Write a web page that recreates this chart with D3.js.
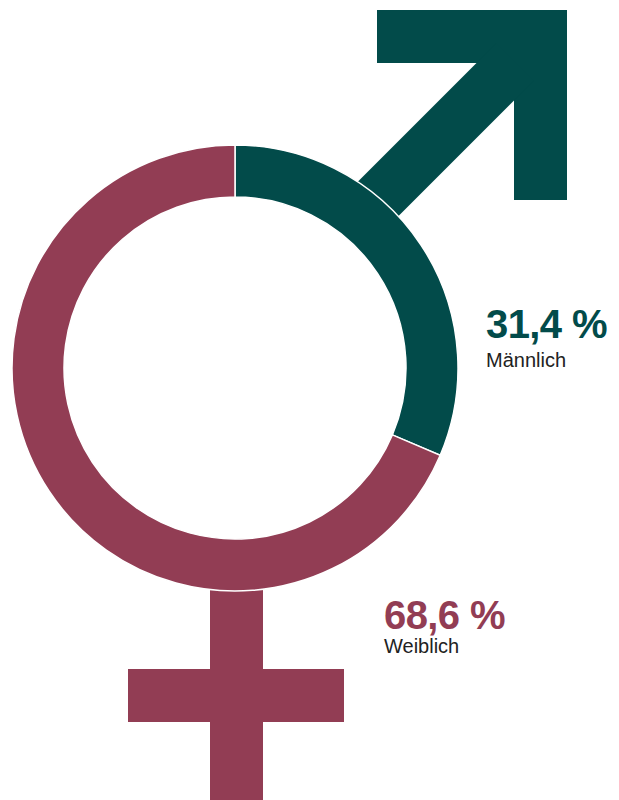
<!DOCTYPE html>
<html>
<head>
<meta charset="utf-8">
<script src="https://cdn.jsdelivr.net/npm/d3@7"></script>
<style>
  html, body { margin: 0; padding: 0; background: #fff; }
  svg { display: block; }
</style>
</head>
<body>
<div id="chart"></div>
<script>
// Daten
const categories = ["Männlich", "Weiblich"];
const values = [31.4, 68.6];
const colors = ["#024b4a", "#923d54"];

const width = 619, height = 800;
const cx = 235, cy = 368;
const outerR = 223, innerR = 171;
const stroke = outerR - innerR;

const fmt = v => d3.format(".1f")(v).replace(".", ",") + " %";

const svg = d3.select("#chart").append("svg")
    .attr("width", width)
    .attr("height", height);

// Pfeil (männlich)
const tip = { x: 567, y: 10 }, headLen = 190;
const arrow = svg.append("g").attr("fill", colors[0]);
arrow.append("rect")
    .attr("x", tip.x - headLen).attr("y", tip.y)
    .attr("width", headLen).attr("height", stroke + 1);
arrow.append("rect")
    .attr("x", tip.x - stroke - 1).attr("y", tip.y)
    .attr("width", stroke + 1).attr("height", headLen);
arrow.append("line")
    .attr("x1", tip.x - stroke).attr("y1", tip.y + stroke)
    .attr("x2", 355).attr("y2", 222)
    .attr("stroke", colors[0])
    .attr("stroke-width", stroke + 1);

// Kreuz (weiblich)
const cross = svg.append("g").attr("fill", colors[1]);
cross.append("rect")
    .attr("x", cx + 1 - stroke / 2).attr("y", cy + (innerR + outerR) / 2)
    .attr("width", stroke + 1).attr("height", height);
cross.append("rect")
    .attr("x", 128).attr("y", 669)
    .attr("width", 216).attr("height", stroke + 1);

// Ring
const pie = d3.pie().sort(null).value(d => d);
const arc = d3.arc().innerRadius(innerR).outerRadius(outerR);

svg.append("g")
    .attr("transform", `translate(${cx},${cy})`)
    .selectAll("path")
    .data(pie(values))
    .join("path")
    .attr("d", arc)
    .attr("fill", (d, i) => colors[i])
    .attr("stroke", "#fff")
    .attr("stroke-width", 1.5);

// Beschriftungen
const labelPos = [{ x: 486, y: 338 }, { x: 384, y: 629 }];

const labels = svg.append("g")
    .selectAll("g")
    .data(categories)
    .join("g")
    .attr("transform", (d, i) => `translate(${labelPos[i].x},${labelPos[i].y})`)
    .style("font-family", "'Liberation Sans', Arial, sans-serif");

labels.append("text")
    .attr("fill", (d, i) => colors[i])
    .style("font-size", "40px")
    .style("font-weight", "bold")
    .style("letter-spacing", "-0.6px")
    .text((d, i) => fmt(values[i]));

labels.append("text")
    .attr("y", (d, i) => i === 0 ? 29 : 24)
    .attr("fill", "#222")
    .style("font-size", "20px")
    .text(d => d);
</script>
</body>
</html>
